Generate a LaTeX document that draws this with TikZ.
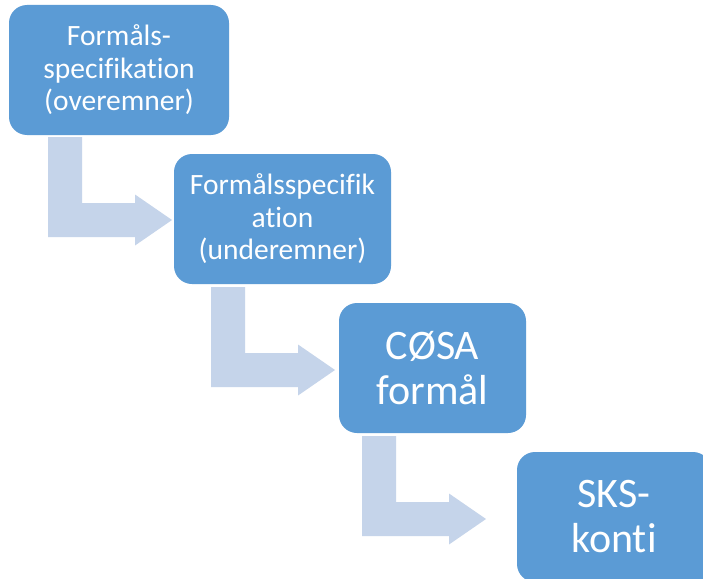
\documentclass[tikz,border=0pt]{standalone}
\usepackage{fontspec}
\setmainfont[RawFeature={-liga}]{Carlito}
\definecolor{boxblue}{RGB}{91,155,213}
\definecolor{arrowblue}{RGB}{197,212,234}
\begin{document}
\begin{tikzpicture}[x=1pt,y=-1pt,
  stepbox/.style={fill=boxblue, draw=none, rounded corners=18pt, text=white,
    inner sep=0pt, align=center, minimum height=130pt},
  smalltext/.style={font=\fontsize{29.5}{32.5}\selectfont},
  bigtext/.style={font=\fontsize{42}{45}\selectfont},
  bentarr/.pic={\fill[arrowblue] (0,0) -- (34,0) -- (34,66) -- (87,66) -- (87,57.5)
     -- (124,83) -- (87,108.5) -- (87,100) -- (0,100) -- cycle;}]
\useasboundingbox (0,0) rectangle (703,578);
\fill[white] (0,0) rectangle (703,578);
\node[stepbox, smalltext, minimum width=220pt, text width=220pt] (b1) at (119,70)
  {Formåls-\\specifikation\\(overemner)};
\node[stepbox, smalltext, minimum width=217pt, text width=217pt] (b2) at (282.5,219)
  {Formålsspecifik\\ation\\(underemner)};
\node[stepbox, bigtext, minimum width=187pt, text width=187pt] (b3) at (432.5,368)
  {CØSA\\formål};
\node[stepbox, bigtext, minimum width=194pt, text width=194pt] (b4) at (614,517)
  {SKS-\\konti};
\pic at (48,137) {bentarr};
\pic at (211,287) {bentarr};
\pic at (362,436) {bentarr};
\end{tikzpicture}
\end{document}
